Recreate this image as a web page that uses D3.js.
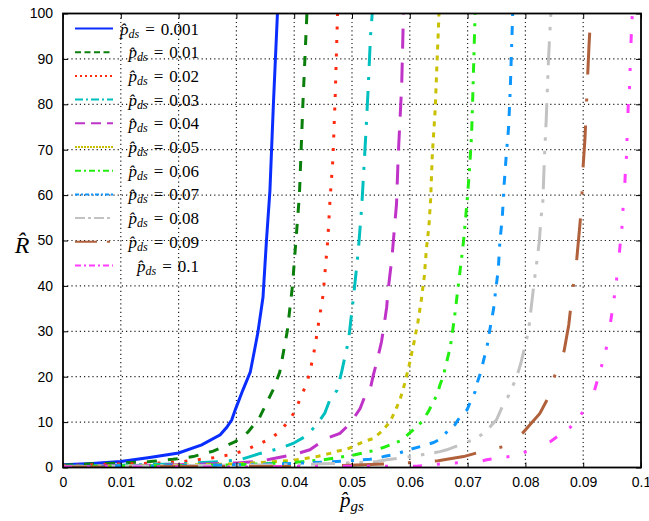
<!DOCTYPE html>
<html><head><meta charset="utf-8">
<script src="https://cdn.jsdelivr.net/npm/d3@7"></script>
<style>body{margin:0;background:#fff}svg{display:block}</style>
</head><body><svg id="c" width="649" height="521"></svg>
<script>
// ---- data ----
const seriesLabels = ["0.001","0.01","0.02","0.03","0.04","0.05","0.06","0.07","0.08","0.09","0.1"];
const xTicks = [0,0.01,0.02,0.03,0.04,0.05,0.06,0.07,0.08,0.09,0.1];
const xTickLabels = ["0","0.01","0.02","0.03","0.04","0.05","0.06","0.07","0.08","0.09","0.1"];
const yTicks = [0,10,20,30,40,50,60,70,80,90,100];

const x001 = [0,0.005,0.01,0.015,0.02,0.024,0.0272,0.0283,0.0292,0.0298,0.0311,0.0324,0.0337,0.0346,0.0352,0.0358,0.0364,0.0371];
const r001 = [0.6,0.9,1.3,2.2,3.2,5,7.2,8.8,10.5,12.7,17,21,29.6,37.5,50,61,80,100];
const x01 = [0,0.005,0.01,0.015,0.019,0.0225,0.026,0.0298,0.032,0.034,0.0363,0.0375,0.0388,0.0397,0.0403,0.0409,0.0415,0.0422];
const r01 = [0.5,0.8,1.0,1.3,1.8,2.4,3.6,5.7,7.8,11,17,21,30,40,50,60,80,100];
const x02 = [0,0.008,0.0168,0.0207,0.0263,0.0296,0.0317,0.0358,0.0375,0.039,0.0403,0.0411,0.042,0.0427,0.0436,0.0443,0.045,0.0454,0.0458,0.0462,0.0467,0.0471,0.0475];
const r02 = [0.4,0.7,1.0,1.3,2.2,3.0,3.9,6.3,7.9,10.2,12.7,15.5,18,20.9,26.6,32.5,38,44,50,59,68,82,100];
const x03 = [0,0.01,0.02,0.0272,0.0306,0.0341,0.0375,0.0398,0.0419,0.0439,0.0453,0.0462,0.0474,0.0482,0.0494,0.0503,0.0511,0.0517,0.0524,0.0528,0.0532,0.0535];
const r03 = [0.3,0.5,0.8,1.3,1.7,3.1,4.2,5.3,6.8,9.4,12,15,17,21,28,38,47.9,57.8,73.6,83.5,95,100];
const x04 = [0,0.01,0.02,0.0301,0.0335,0.0358,0.0398,0.0427,0.0456,0.0479,0.0497,0.0514,0.0522,0.0531,0.0537,0.0543,0.0551,0.0555,0.056,0.0562,0.0566,0.0569,0.0574,0.0577,0.058,0.0583,0.0586,0.0589];
const r04 = [0.2,0.4,0.6,1.0,1.3,1.8,2.8,3.9,6.4,7.5,9.7,13,15.6,17,20.4,23.3,27.7,30.9,35.3,38.5,42.9,46,53.6,58,68.8,76.5,84.3,100];
const x05 = [0,0.01,0.02,0.03,0.0393,0.0419,0.0439,0.0462,0.0474,0.0488,0.0502,0.052,0.0537,0.0551,0.0566,0.0574,0.0583,0.0591,0.0599,0.0607,0.0614,0.062,0.0625,0.0629,0.0633,0.0636,0.0639,0.0644,0.0647,0.0649,0.06505];
const r05 = [0.2,0.3,0.5,0.8,1.5,2.0,2.4,3.1,3.6,3.9,4.6,5.7,6.4,7.9,10.1,12.3,14.9,18.4,22.6,27.4,32,37,42,48.5,53,59,69,79,89,95,100];
const x06 = [0,0.01,0.02,0.03,0.04,0.045,0.0505,0.0537,0.0554,0.0572,0.0586,0.0599,0.0612,0.0621,0.0632,0.0641,0.0647,0.0652,0.0658,0.0666,0.067,0.0677,0.0681,0.0689,0.0693,0.0696,0.07,0.0704,0.0707,0.0709,0.0711,0.0713];
const r06 = [0.2,0.3,0.4,0.6,1.1,1.7,2.8,3.7,4.4,5.3,6,7.5,9,10.1,12.3,14.5,16,18.1,20.2,24.4,26.5,32.7,37,45.5,49.9,54.1,60,67,73.6,82,91,100];
const x07 = [0,0.01,0.02,0.03,0.04,0.0485,0.0531,0.0543,0.0557,0.0572,0.0606,0.0618,0.0641,0.0655,0.0665,0.0678,0.0687,0.0699,0.0705,0.0713,0.0717,0.0722,0.073,0.0734,0.0738,0.0745,0.0749,0.0753,0.0756,0.076,0.0763,0.0767,0.0771,0.0774,0.0776,0.0778];
const r07 = [0.2,0.3,0.4,0.6,0.9,1.4,1.8,2.0,2.5,2.8,4.2,4.6,5.5,6.4,8,9.4,11.2,12.7,14.5,16.7,18.8,20.7,24.8,26.9,30,35,39.5,43.5,50,55,62,69,75,84,92,100];
const x08 = [0,0.01,0.02,0.03,0.04,0.045,0.0508,0.0543,0.056,0.0603,0.0629,0.0644,0.0652,0.0664,0.0701,0.0716,0.0719,0.0733,0.0742,0.075,0.0765,0.077,0.0779,0.0785,0.0792,0.0802,0.0806,0.0811,0.0816,0.0819,0.0824,0.0827,0.083,0.0833,0.0836,0.084,0.0844];
const r08 = [0.2,0.3,0.4,0.5,0.6,0.8,1.1,1.3,1.7,2.4,3.0,3.3,3.5,3.9,5.7,6.4,6.8,8,9.4,10.5,14.9,15.6,18.2,20,22.9,28.2,30.7,36.3,41.7,44.6,49.7,55,58,68.6,76.5,90,100];
const x09 = [0,0.01,0.02,0.03,0.0419,0.0456,0.0577,0.0649,0.0693,0.0736,0.0762,0.0773,0.0796,0.0825,0.0846,0.0848,0.0867,0.0875,0.088,0.0889,0.0893,0.0897,0.09,0.0903,0.0905,0.0908,0.091,0.0913];
const r09 = [0.1,0.1,0.2,0.2,0.2,0.3,0.9,1.5,2.4,3.9,4.6,5.7,7.7,11.9,17,19.3,25.7,31.4,37,46.1,51.7,57.4,66.6,72.3,78,87.2,92.8,100];
const x1 = [0,0.01,0.02,0.03,0.04,0.0551,0.0612,0.0666,0.0719,0.0733,0.0778,0.0804,0.0825,0.0843,0.0878,0.0896,0.0909,0.0918,0.093,0.0938,0.0943,0.0952,0.0956,0.0959,0.0961,0.0965,0.0968,0.0969,0.0971,0.0973,0.0975,0.0976,0.0978,0.098,0.0981,0.0983,0.0985];
const r1 = [0.1,0.1,0.1,0.1,0.2,0.3,0.3,0.9,1.3,1.7,2.5,3.6,4.8,5.7,8.9,11.6,14.5,16.3,21.6,25,28.3,36,39.5,42.8,45,50.6,54.1,57.4,59.6,65.3,68.8,73,80,83.5,87,94.7,100];

const seriesX = [x001,x01,x02,x03,x04,x05,x06,x07,x08,x09,x1];
const seriesR = [r001,r01,r02,r03,r04,r05,r06,r07,r08,r09,r1];

// ---- styles ----
const colors = ["#0a2eff","#0b7f0b","#ff2a10","#00bfbf","#c033c8","#c8c000","#22ee10","#0e96ff","#c2c2c2","#b0603a","#ff3cff"];
const dashes = ["", "10,11", "3,10.5", "20,11,3,11", "20,14", "5,6", "9.5,8,3,8.5", "9,10,9,10,3,9", "24,11,3.5,10,3.5,10", "42,24,3,24", "9,15,3,15,3,25"];
const legDashes = ["", "6,3.5", "2,3", "8,3,2,3", "10,6", "2,1", "6,3,2,3", "4,2,2,2", "10,3,3,3", "22,10,3,6", "6,3,2,3"];

const svg = d3.select("#c");
const L = 63, R = 641, T = 13.5, B = 467.5;
const xs = d3.scaleLinear().domain([0,0.1]).range([L,R]);
const ys = d3.scaleLinear().domain([0,100]).range([B,T]);

// grid
const g = svg.append("g");
g.selectAll(".vg").data(xTicks.slice(1,-1)).join("line")
 .attr("x1",d=>xs(d)).attr("x2",d=>xs(d)).attr("y1",T).attr("y2",B)
 .attr("stroke","#222").attr("stroke-width",1.2).attr("stroke-dasharray","1.2,3");
g.selectAll(".hg").data(yTicks.slice(1,-1)).join("line")
 .attr("y1",d=>ys(d)).attr("y2",d=>ys(d)).attr("x1",L).attr("x2",R)
 .attr("stroke","#222").attr("stroke-width",1.2).attr("stroke-dasharray","1.2,3");

// clip
svg.append("clipPath").attr("id","cp").append("rect").attr("x",L).attr("y",T).attr("width",R-L).attr("height",B-T);

const line = d3.line().x(d=>xs(d[0])).y(d=>ys(d[1]));
const curves = svg.append("g").attr("clip-path","url(#cp)");
seriesX.forEach((xa,i)=>{
  const pts = xa.map((v,j)=>[v, seriesR[i][j]]);
  curves.append("path").attr("d",line(pts)).attr("fill","none")
    .attr("stroke",colors[i]).attr("stroke-width",3)
    .attr("stroke-dasharray",dashes[i] || null);
});

// axes
const ax = svg.append("g");
const xAxisB = d3.axisBottom(xs).tickValues(xTicks).tickFormat((d,i)=>xTickLabels[i]).tickSizeInner(-5).tickSizeOuter(0).tickPadding(10);
const xg = ax.append("g").attr("transform",`translate(0,${B})`).call(xAxisB);
const yAxisL = d3.axisLeft(ys).tickValues(yTicks).tickSizeInner(-5).tickSizeOuter(0).tickPadding(10);
const yg = ax.append("g").attr("transform",`translate(${L},0)`).call(yAxisL);
const xAxisT = d3.axisTop(xs).tickValues(xTicks).tickFormat("").tickSizeInner(-5).tickSizeOuter(0);
ax.append("g").attr("transform",`translate(0,${T})`).call(xAxisT);
const yAxisR = d3.axisRight(ys).tickValues(yTicks).tickFormat("").tickSizeInner(-5).tickSizeOuter(0);
ax.append("g").attr("transform",`translate(${R},0)`).call(yAxisR);
ax.selectAll(".domain").remove();
ax.selectAll(".tick line").attr("stroke","#000").attr("stroke-width",1);
ax.selectAll(".tick text").attr("font-family","'Liberation Sans', Arial, sans-serif").attr("font-size",14).attr("fill","#000");
xg.selectAll(".tick text").attr("dy","0.71em");
svg.append("rect").attr("x",L).attr("y",T).attr("width",R-L).attr("height",B-T)
  .attr("fill","none").attr("stroke","#000").attr("stroke-width",1.8);

// axis titles
const serif = "'Liberation Serif','Times New Roman',serif";
const xt = svg.append("text").attr("x",352).attr("y",507).attr("text-anchor","middle")
  .attr("font-family",serif).attr("font-size",21).attr("font-style","italic");
xt.append("tspan").text("p\u0302");
xt.append("tspan").attr("font-size",15).attr("dy",4).text("gs");
svg.append("text").attr("x",22).attr("y",253).attr("text-anchor","middle")
  .attr("font-family",serif).attr("font-size",24).attr("font-style","italic").text("R\u0302");

// legend
const lg = svg.append("g");
seriesLabels.forEach((lab,i)=>{
  const cy = 29.5 + i*23.7;
  lg.append("line").attr("x1",75).attr("x2",113).attr("y1",cy-1).attr("y2",cy-1)
    .attr("stroke",colors[i]).attr("stroke-width",2)
    .attr("stroke-dasharray",legDashes[i] || null);
  const t = lg.append("text").attr("x",199).attr("y",cy+5).attr("text-anchor","end")
    .attr("font-family",serif).attr("font-size",17);
  t.append("tspan").attr("font-style","italic").text("p\u0302");
  t.append("tspan").attr("font-style","italic").attr("font-size",12).attr("dy",3).text("ds");
  t.append("tspan").attr("dy",-3).attr("dx",6).text("=");
  t.append("tspan").attr("dx",6).text(lab);
});
</script></body></html>
